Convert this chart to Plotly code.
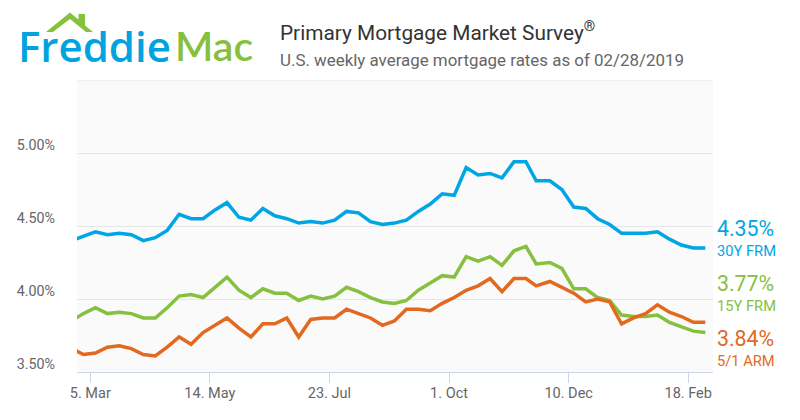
import plotly.graph_objects as go

# ---------------- data ----------------
dates = [
    "2018-02-22", "2018-03-01", "2018-03-08", "2018-03-15", "2018-03-22", "2018-03-29",
    "2018-04-05", "2018-04-12", "2018-04-19", "2018-04-26", "2018-05-03", "2018-05-10",
    "2018-05-17", "2018-05-24", "2018-05-31", "2018-06-07", "2018-06-14", "2018-06-21",
    "2018-06-28", "2018-07-05", "2018-07-12", "2018-07-19", "2018-07-26", "2018-08-02",
    "2018-08-09", "2018-08-16", "2018-08-23", "2018-08-30", "2018-09-06", "2018-09-13",
    "2018-09-20", "2018-09-27", "2018-10-04", "2018-10-11", "2018-10-18", "2018-10-25",
    "2018-11-01", "2018-11-08", "2018-11-15", "2018-11-21", "2018-11-29", "2018-12-06",
    "2018-12-13", "2018-12-20", "2018-12-27", "2019-01-03", "2019-01-10", "2019-01-17",
    "2019-01-24", "2019-01-31", "2019-02-07", "2019-02-14", "2019-02-21", "2019-02-28",
]
frm30 = [
    4.40, 4.43, 4.46, 4.44, 4.45, 4.44, 4.40, 4.42, 4.47, 4.58, 4.55, 4.55,
    4.61, 4.66, 4.56, 4.54, 4.62, 4.57, 4.55, 4.52, 4.53, 4.52, 4.54, 4.60,
    4.59, 4.53, 4.51, 4.52, 4.54, 4.60, 4.65, 4.72, 4.71, 4.90, 4.85, 4.86,
    4.83, 4.94, 4.94, 4.81, 4.81, 4.75, 4.63, 4.62, 4.55, 4.51, 4.45, 4.45,
    4.45, 4.46, 4.41, 4.37, 4.35, 4.35,
]
frm15 = [
    3.85, 3.90, 3.94, 3.90, 3.91, 3.90, 3.87, 3.87, 3.94, 4.02, 4.03, 4.01,
    4.08, 4.15, 4.06, 4.01, 4.07, 4.04, 4.04, 3.99, 4.02, 4.00, 4.02, 4.08,
    4.05, 4.01, 3.98, 3.97, 3.99, 4.06, 4.11, 4.16, 4.15, 4.29, 4.26, 4.29,
    4.23, 4.33, 4.36, 4.24, 4.25, 4.21, 4.07, 4.07, 4.01, 3.99, 3.89, 3.88,
    3.88, 3.89, 3.84, 3.81, 3.78, 3.77,
]
arm51 = [
    3.66, 3.62, 3.63, 3.67, 3.68, 3.66, 3.62, 3.61, 3.67, 3.74, 3.69, 3.77,
    3.82, 3.87, 3.80, 3.74, 3.83, 3.83, 3.87, 3.74, 3.86, 3.87, 3.87, 3.93,
    3.90, 3.87, 3.82, 3.85, 3.93, 3.93, 3.92, 3.97, 4.01, 4.06, 4.09, 4.14,
    4.05, 4.14, 4.14, 4.09, 4.12, 4.08, 4.04, 3.98, 4.00, 3.98, 3.83, 3.87,
    3.90, 3.96, 3.91, 3.88, 3.84, 3.84,
]
series_names = ["30Y FRM", "15Y FRM", "5/1 ARM"]

x_tick_dates = ["2018-03-05", "2018-05-14", "2018-07-23", "2018-10-01", "2018-12-10", "2019-02-18"]
x_tick_labels = ["5. Mar", "14. May", "23. Jul", "1. Oct", "10. Dec", "18. Feb"]
y_tick_vals = [3.5, 4.0, 4.5, 5.0]
y_tick_labels = ["3.50%", "4.00%", "4.50%", "5.00%"]
y_top = 5.5

title_text = "Primary Mortgage Market Survey<sup>®</sup>"
subtitle_text = "U.S. weekly average mortgage rates as of 02/28/2019"

# ---------------- styling ----------------
BLUE = "#00a6e3"
GREEN = "#86c03f"
ORANGE = "#e2691f"
colors = [BLUE, GREEN, ORANGE]
FONT = "Roboto"

W, H = 800, 420
L, R, T, B = 77, 87, 80, 48
PW, PH = W - L - R, H - T - B


def px(x):
    return (x - L) / PW


def py(y):
    return (H - B - y) / PH


fig = go.Figure()
for vals, name, col in zip([frm30, frm15, arm51], series_names, colors):
    fig.add_trace(go.Scatter(
        x=dates, y=vals, mode="lines", name=name,
        line=dict(color=col, width=3.5), hoverinfo="x+y",
    ))

annotations = []
# logo
annotations.append(dict(text="Freddie", x=px(16), y=py(46), xref="paper", yref="paper",
                        xanchor="left", yanchor="middle", showarrow=False,
                        font=dict(family="Open Sans", size=42, color="#00a3e0", weight=600)))
annotations.append(dict(text="Mac", x=px(173), y=py(46), xref="paper", yref="paper",
                        xanchor="left", yanchor="middle", showarrow=False,
                        font=dict(family="Lato", size=41, color=GREEN, weight=600)))
# titles
annotations.append(dict(text=title_text, x=px(278), y=py(31), xref="paper", yref="paper",
                        xanchor="left", yanchor="middle", showarrow=False,
                        font=dict(family=FONT, size=20.8, color="#333333")))
annotations.append(dict(text=subtitle_text, x=px(278), y=py(60), xref="paper", yref="paper",
                        xanchor="left", yanchor="middle", showarrow=False,
                        font=dict(family=FONT, size=16.9, color="#666666")))
# right side labels (value + series name in one text block)
label_mid = [237.5, 293, 348]
for vals, name, col, ym in zip([frm30, frm15, arm51], series_names, colors, label_mid):
    txt = (f"<span style='font-size:21.3px'>{vals[-1]:.2f}%</span><br>"
           f"<span style='font-size:14.7px'>{name}</span>")
    annotations.append(dict(text=txt, x=px(715), y=py(ym), xref="paper", yref="paper",
                            xanchor="left", yanchor="middle", align="left", showarrow=False,
                            font=dict(family=FONT, size=15.7, color=col)))

# roof of logo
roof = [(46, 32), (70, 12.5), (78.5, 19.5), (78.5, 14), (85, 14), (85, 25.5), (93, 32),
        (86, 32), (70, 19), (53, 32)]
path = "M " + " L ".join(f"{px(a):.5f},{py(b):.5f}" for a, b in roof) + " Z"
shapes = [
    dict(type="path", path=path, xref="paper", yref="paper",
         fillcolor=GREEN, line=dict(width=0)),
    dict(type="line", xref="paper", yref="y", x0=0, x1=1, y0=y_top, y1=y_top,
         line=dict(color="#e6e6e6", width=1), layer="below"),
]

fig.update_layout(
    width=W, height=H,
    margin=dict(l=L, r=R, t=T, b=B),
    paper_bgcolor="white", plot_bgcolor="#fafafa",
    showlegend=False,
    font=dict(family=FONT, color="#666666"),
    annotations=annotations, shapes=shapes,
    xaxis=dict(
        type="date", range=["2018-02-25 05:00", "2019-03-04 12:00"],
        tickvals=x_tick_dates, ticktext=x_tick_labels,
        showgrid=False, zeroline=False,
        showline=True, linecolor="#ccd6eb", linewidth=1,
        ticks="outside", ticklen=10, tickcolor="#ccd6eb", tickwidth=1,
        tickfont=dict(family=FONT, size=14.5, color="#666666"),
        ticklabelstandoff=-2,
    ),
    yaxis=dict(
        range=[3.5, y_top], tickvals=y_tick_vals, ticktext=y_tick_labels,
        showgrid=True, gridcolor="#e6e6e6", gridwidth=1, zeroline=False,
        showline=False, ticks="",
        tickfont=dict(family=FONT, size=14.3, color="#666666"),
        ticklabelshift=-8, ticklabelstandoff=21,
    ),
)

fig.write_html("out.html", config={"displayModeBar": False},
               post_script="document.body.style.margin='0px';")
